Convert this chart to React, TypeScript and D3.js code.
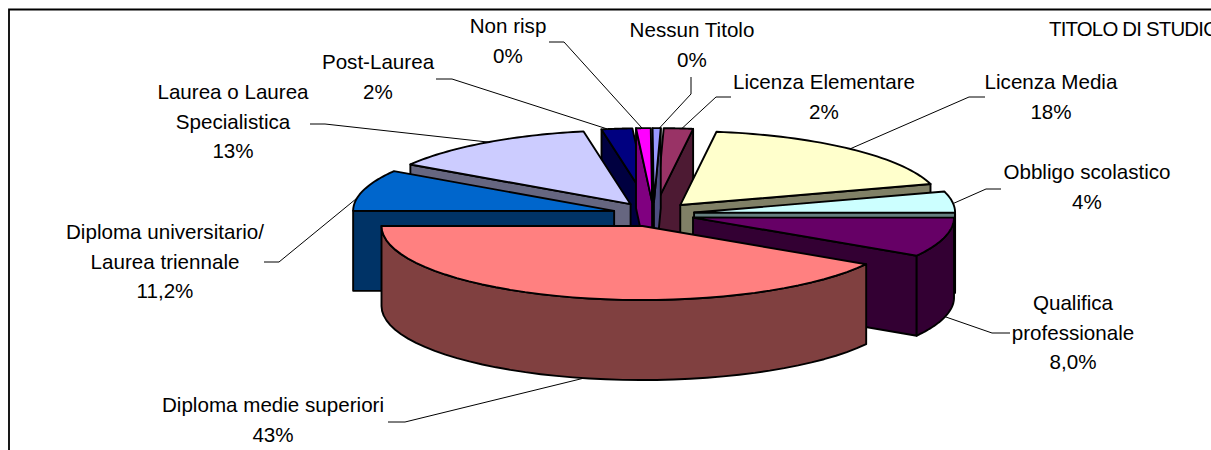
import React from "react";
import * as d3 from "d3";

// Clockwise from 12 o'clock, shares as drawn in the picture (%)
const categories = ["Nessun Titolo", "Licenza Elementare", "Licenza Media", "Obbligo scolastico", "Qualifica professionale", "Diploma medie superiori", "Diploma universitario/Laurea triennale", "Laurea o Laurea Specialistica", "Post-Laurea", "Non risp"];
const shares = [0.5, 1.8, 18.2, 4.6, 8.6, 41.4, 9.0, 13.1, 1.9, 0.9];
const topColors = ["#9999FF", "#993366", "#FFFFCC", "#CCFFFF", "#660066", "#FF8080", "#0066CC", "#CCCCFF", "#000080", "#FF00FF"];
const wallColors = ["#4D4D80", "#4D1A33", "#808066", "#668080", "#330033", "#804040", "#003366", "#666680", "#000040", "#800080"];
const paintOrder = [8, 9, 1, 0, 7, 2, 3, 6, 4, 5];

const labelLines = [
  ["Nessun Titolo", "0%"],
  ["Licenza Elementare", "2%"],
  ["Licenza Media", "18%"],
  ["Obbligo scolastico", "4%"],
  ["Qualifica", "professionale", "8,0%"],
  ["Diploma medie superiori", "43%"],
  ["Diploma universitario/", "Laurea triennale", "11,2%"],
  ["Laurea o Laurea", "Specialistica", "13%"],
  ["Post-Laurea", "2%"],
  ["Non risp", "0%"],
];
const labelCentres = [[692, 37], [824, 89], [1051, 89], [1087, 179], [1073, 310], [273, 412], [165, 239], [233, 99], [378, 69], [508, 33]];
const leaderElbows = [
  [[691, 94], [691, 77]],
  [[716, 97], [731, 97]],
  [[969, 97], [985, 97]],
  [[986, 189], [1001, 189]],
  [[992, 333], [1010, 333]],
  [[405, 422], [388, 422]],
  [[279, 262], [264, 262]],
  [[325, 124], [310, 124]],
  [[452, 79], [436, 79]],
  [[564, 42], [549, 42]],
];
const leaderAngles = [1.2, 5.5, 40.6, 83, 105, 193, 280, 327, 351, 357.8];

const W = 1211, H = 450;
const cx = 653.5, cy = 214.3, rx = 261, ry = 74, depth = 80, explodeX = 41, explodeY = 12.2;
const rad = Math.PI / 180;
const FONT = "'Liberation Sans', Arial, sans-serif";

const pie = d3.pie<number>().sort(null).startAngle(-0.3 * rad).endAngle((360 - 0.3) * rad);
const arcs = pie(shares);
const xOf = d3.scaleLinear().domain([-1, 1]);
const lineGen = d3.line();

type P = [number, number];

function closed(pts: P[]) {
  return lineGen(pts) + "Z";
}

function sliceGeom(i: number) {
  const a = arcs[i].startAngle, b = arcs[i].endAngle, m = (a + b) / 2;
  const ax = cx + explodeX * Math.sin(m), ay = cy - explodeY * Math.cos(m);
  xOf.range([ax - rx, ax + rx]);
  const scale = xOf.copy();
  const rim = (t: number): P => [scale(Math.sin(t)), ay - ry * Math.cos(t)];
  const samples = (s: number, e: number) => d3.range(0, 41).map((k) => rim(s + ((e - s) * k) / 40));
  return { a, b, ax, ay, rim, samples };
}

const down = (p: P): P => [p[0], p[1] + depth];

function Slice({ i }: { i: number }) {
  const { a, b, ax, ay, rim, samples } = sliceGeom(i);
  const apex: P = [ax, ay];
  const sw = 1.9;
  const wall = wallColors[i];
  const parts: React.ReactNode[] = [];
  if (Math.sin(a) < 0) {
    const r = rim(a);
    parts.push(<path key="s" d={closed([apex, r, down(r), down(apex)])} fill={wall} stroke="#000" strokeWidth={sw} strokeLinejoin="round" />);
  }
  if (Math.sin(b) > 0) {
    const r = rim(b);
    parts.push(<path key="e" d={closed([apex, r, down(r), down(apex)])} fill={wall} stroke="#000" strokeWidth={sw} strokeLinejoin="round" />);
  }
  const s0 = Math.max(a, 90 * rad), e0 = Math.min(b, 270 * rad);
  if (e0 > s0) {
    const top = samples(s0, e0);
    const bottom = top.map(down).reverse();
    parts.push(<path key="o" d={closed([...top, ...bottom])} fill={wall} stroke="#000" strokeWidth={sw} strokeLinejoin="round" />);
  }
  parts.push(<path key="t" d={closed([apex, ...samples(a, b)])} fill={topColors[i]} stroke="#000" strokeWidth={sw} strokeLinejoin="round" />);
  return <g data-name={categories[i]}>{parts}</g>;
}

function Leader({ i }: { i: number }) {
  const { rim } = sliceGeom(i);
  const t = leaderAngles[i] * rad;
  const r = rim(t);
  const start: P = Math.cos(t) < 0 ? down(r) : r;
  const pts = [start, ...(leaderElbows[i] as P[])];
  return <path d={lineGen(pts) || ""} fill="none" stroke="#000" strokeWidth={1} />;
}

export default function App() {
  return (
    <svg width={W} height={H} viewBox={`0 0 ${W} ${H}`} style={{ position: "absolute", left: 0, top: 0, background: "#fff" }}>
      <path d={`M9,${H}V9.5H${W}`} fill="none" stroke="#000" strokeWidth={1.8} />
      {categories.map((_, i) => <Leader key={i} i={i} />)}
      {paintOrder.map((i) => <Slice key={i} i={i} />)}
      {labelLines.map((lines, i) => (
        <text key={i} x={labelCentres[i][0]} y={labelCentres[i][1]} textAnchor="middle" fontFamily={FONT} fontSize={20.6} fill="#000">
          {lines.map((l, k) => (
            <tspan key={k} x={labelCentres[i][0]} dy={k === 0 ? 0 : 29.5}>{l}</tspan>
          ))}
        </text>
      ))}
      <text x={1049} y={36} fontFamily={FONT} fontSize={20.4} letterSpacing={-0.8} fill="#000">TITOLO DI STUDIO</text>
    </svg>
  );
}
